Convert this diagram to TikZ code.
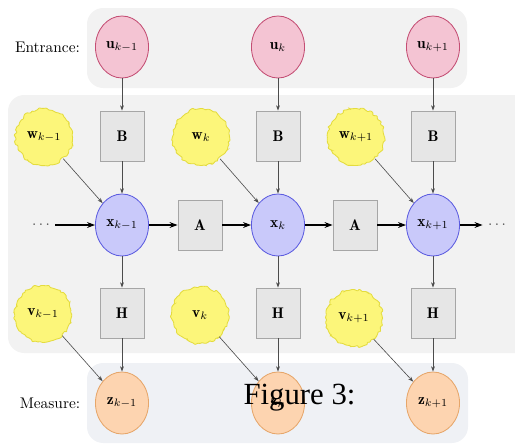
\documentclass[tikz,border=0pt]{standalone}
\usepackage{fontspec}
\newfontfamily\capfont{Liberation Serif}
\usetikzlibrary{shapes.geometric,arrows.meta,decorations.pathmorphing}
\definecolor{ufill}{HTML}{F4C4D3}
\definecolor{udraw}{HTML}{C44E74}
\definecolor{xfill}{HTML}{C9C9FA}
\definecolor{xdraw}{HTML}{5C5CE0}
\definecolor{zfill}{HTML}{FDD4B0}
\definecolor{zdraw}{HTML}{E6A66A}
\definecolor{nfill}{HTML}{FCF67A}
\definecolor{ndraw}{HTML}{E4DC3E}
\definecolor{bfill}{HTML}{E6E6E6}
\definecolor{bdraw}{HTML}{A6A6A6}
\definecolor{bgtop}{HTML}{F2F2F2}
\definecolor{bgbot}{HTML}{EFF1F5}
\tikzset{
  txt/.style={font=\normalsize},
  varnode/.style={ellipse, minimum width=34.5pt, minimum height=40.3pt, inner sep=0pt, line width=0.55pt, txt},
  unode/.style={varnode, fill=ufill, draw=udraw},
  xnode/.style={varnode, fill=xfill, draw=xdraw},
  znode/.style={varnode, fill=zfill, draw=zdraw},
  noisenode/.style={circle, minimum size=37pt, inner sep=0pt, fill=nfill, draw=ndraw, line width=0.55pt,
    decorate, decoration={random steps, segment length=1.6pt, amplitude=0.9pt}, rounded corners=0.4pt, txt},
  matbox/.style={rectangle, minimum width=28.6pt, minimum height=32.5pt, inner sep=0pt, fill=bfill, draw=bdraw, line width=0.55pt, txt},
  thinarrow/.style={draw=black!70, line width=0.4pt, -{Stealth[length=3.5pt,width=2.5pt]}},
  thickarrow/.style={draw=black, line width=0.75pt, -{Stealth[length=5.2pt,width=3.8pt]}},
  bgpanel/.style={rounded corners=10.5pt, draw=none},
}
\begin{document}
\begin{tikzpicture}[x=0.65pt,y=-0.65pt]
\pgfmathsetseed{7}
\useasboundingbox (0,0) rectangle (515,445);
% backgrounds
\fill[bgpanel, fill=bgtop] (87,8) rectangle (467,88);
\fill[bgpanel, fill=bgtop] (8,95) rectangle (535,353);
\fill[bgpanel, fill=bgbot] (87,363) rectangle (468,443);
% labels
\node[txt] (lent) at (47.5,47) {Entrance:};
\node[txt] (lmea) at (50,403) {Measure:};
% inputs
\node[unode] (u1) at (122,47) {$\mathbf{u}_{k-1}$};
\node[unode] (u2) at (278,47) {$\mathbf{u}_{k}$};
\node[unode] (u3) at (433,47) {$\mathbf{u}_{k+1}$};
% B boxes
\node[matbox] (b1) at (122,136) {$\mathbf{B}$};
\node[matbox] (b2) at (278,136) {$\mathbf{B}$};
\node[matbox] (b3) at (433,136) {$\mathbf{B}$};
% process noise
\node[noisenode] (w1) at (44,137) {$\mathbf{w}_{k-1}$};
\node[noisenode] (w2) at (201,137) {$\mathbf{w}_{k}$};
\node[noisenode] (w3) at (356,137) {$\mathbf{w}_{k+1}$};
% states
\node[xnode] (x1) at (122,225) {$\mathbf{x}_{k-1}$};
\node[xnode] (x2) at (278,225) {$\mathbf{x}_{k}$};
\node[xnode] (x3) at (433,225) {$\mathbf{x}_{k+1}$};
\node[matbox] (a1) at (200,225) {$\mathbf{A}$};
\node[matbox] (a2) at (355,225) {$\mathbf{A}$};
\node[txt, text=black!70] (dl) at (41,225) {$\cdots$};
\node[txt, text=black!70] (dr) at (497,225) {$\cdots$};
% H boxes
\node[matbox] (h1) at (122,313) {$\mathbf{H}$};
\node[matbox] (h2) at (278,313) {$\mathbf{H}$};
\node[matbox] (h3) at (433,313) {$\mathbf{H}$};
% measurement noise
\node[noisenode] (v1) at (43,314) {$\mathbf{v}_{k-1}$};
\node[noisenode] (v2) at (200,315) {$\mathbf{v}_{k}$};
\node[noisenode] (v3) at (354,318) {$\mathbf{v}_{k+1}$};
% measurements
\node[znode] (z1) at (122,403) {$\mathbf{z}_{k-1}$};
\node[znode] (z2) at (278,403) {$\mathbf{z}_{k}$};
\node[znode] (z3) at (433,403) {$\mathbf{z}_{k+1}$};
% arrows
\foreach \i in {1,2,3}{
  \draw[thinarrow] (u\i) -- (b\i);
  \draw[thinarrow] (b\i) -- (x\i);
  \draw[thinarrow] (w\i) -- (x\i);
  \draw[thinarrow] (x\i) -- (h\i);
  \draw[thinarrow] (h\i) -- (z\i);
  \draw[thinarrow] (v\i) -- (z\i);
}
\draw[thickarrow] (dl) -- (x1);
\draw[thickarrow] (x1) -- (a1);
\draw[thickarrow] (a1) -- (x2);
\draw[thickarrow] (x2) -- (a2);
\draw[thickarrow] (a2) -- (x3);
\draw[thickarrow] (x3) -- (dr);
% caption
\node[font=\capfont\fontsize{20}{24}\selectfont, anchor=base] (cap) at (299.5,404) {Figure 3:};
\end{tikzpicture}
\end{document}
